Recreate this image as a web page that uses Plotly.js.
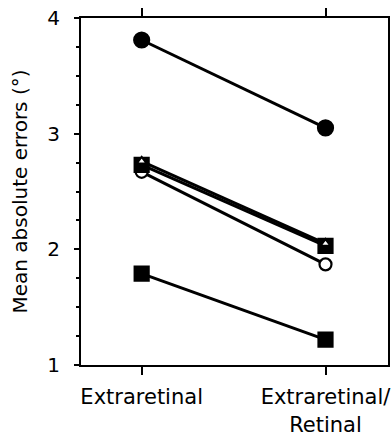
<!DOCTYPE html>
<html><head><meta charset="utf-8">
<script src="https://cdn.plot.ly/plotly-3.0.1.min.js"></script>
<style>html,body{margin:0;padding:0;background:#fff}</style>
</head><body><div id="chart" style="width:392px;height:437px"></div>
<script>
const conditions = ['Extraretinal', 'Extraretinal/<br>Retinal'];
const filledCircle = [3.81, 3.05];
const filledSquareUpper = [2.73, 2.03];
const openTriangle = [2.76, 2.05];
const openCircle = [2.67, 1.87];
const filledSquareLower = [1.79, 1.22];
const yTicks = [1, 2, 3, 4];

const font = 'DejaVu Sans, sans-serif';
function series(y, symbol, size, fill) {
  return {
    x: conditions, y: y, type: 'scatter', mode: 'lines+markers',
    line: {color: '#000', width: 3},
    marker: {symbol: symbol, size: size, color: fill ? '#000' : '#fff',
             line: {color: '#000', width: 2.2}},
    cliponaxis: false, showlegend: false, hoverinfo: 'skip'
  };
}
const data = [
  series(filledCircle, 'circle', 15, true),
  series(openCircle, 'circle', 12, false),
  series(filledSquareUpper, 'square', 14, true),
  series(openTriangle, 'triangle-up', 9, false),
  series(filledSquareLower, 'square', 14, true)
];
const layout = {
  width: 392, height: 437,
  margin: {l: 81, r: 4, t: 18, b: 72},
  paper_bgcolor: '#fff', plot_bgcolor: '#fff',
  font: {family: font, color: '#000', size: 20},
  xaxis: {
    type: 'category', categoryarray: conditions, range: [-0.33, 1.34],
    showline: true, linecolor: '#000', linewidth: 2, mirror: 'allticks',
    ticks: 'outside', ticklen: 8, tickwidth: 2, tickcolor: '#000',
    ticklabelstandoff: 4,
    showgrid: false, zeroline: false, tickfont: {size: 21, family: font}
  },
  yaxis: {
    range: [1, 4], tickvals: yTicks, ticktext: yTicks.map(String),
    showline: true, linecolor: '#000', linewidth: 2, mirror: true,
    ticks: 'outside', ticklen: 5, tickwidth: 2, tickcolor: '#000',
    minor: {dtick: 0.25, ticks: 'outside', ticklen: 3, tickwidth: 2, tickcolor: '#000'},
    showgrid: false, zeroline: false, ticklabelstandoff: 10,
    tickfont: {size: 20, family: font},
    title: {text: 'Mean absolute errors (°)', font: {size: 20, family: font}, standoff: 14}
  },
  yaxis2: {
    range: [1, 4], overlaying: 'y', side: 'right', dtick: 0.25,
    showticklabels: false, ticks: 'inside', ticklen: 3, tickwidth: 2, tickcolor: '#000',
    showline: false, showgrid: false, zeroline: false
  }
};
Plotly.newPlot('chart', data, layout, {displayModeBar: false, staticPlot: true});
</script></body></html>
